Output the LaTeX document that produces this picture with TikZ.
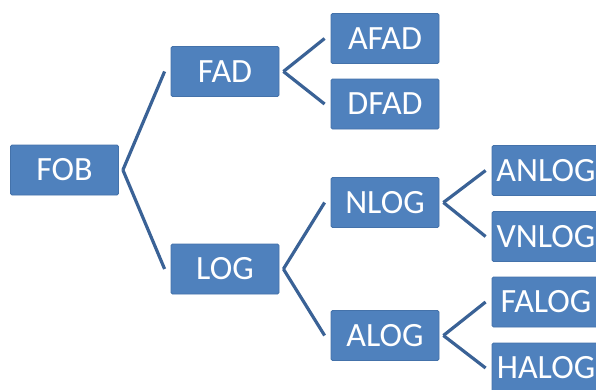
\documentclass[tikz,border=0pt]{standalone}
\usepackage{fontspec}
\setmainfont{Carlito}
\definecolor{boxblue}{RGB}{79,129,189}
\definecolor{boxedge}{RGB}{68,114,170}
\definecolor{linkblue}{RGB}{58,98,150}
\begin{document}
\begin{tikzpicture}[x=1pt,y=-1pt,
  tbox/.style={draw=boxedge,line width=0.8pt,fill=boxblue,rounded corners=1.5pt,
    minimum width=108pt,minimum height=50pt,inner sep=0pt,text=white,
    font=\fontsize{34}{40}\selectfont},
  conn/.style={draw=linkblue,line width=3.2pt}]
\useasboundingbox (0,0) rectangle (596,389);
\clip (0,0) rectangle (596,389);
\node[tbox] (FOB) at (64.5,170) {FOB};
\node[tbox] (FAD) at (225,71.5) {FAD};
\node[tbox] (LOG) at (225,269) {LOG};
\node[tbox] (AFAD) at (385,38.5) {AFAD};
\node[tbox] (DFAD) at (385,104) {DFAD};
\node[tbox] (NLOG) at (385,202.5) {NLOG};
\node[tbox] (ALOG) at (385,335.5) {ALOG};
\node[tbox] (ANLOG) at (546,170.5) {ANLOG};
\node[tbox] (VNLOG) at (546,236.5) {VNLOG};
\node[tbox] (FALOG) at (546,302) {FALOG};
\node[tbox] (HALOG) at (546,368) {HALOG};
\foreach \p/\c in {FOB/FAD,FOB/LOG,FAD/AFAD,FAD/DFAD,LOG/NLOG,LOG/ALOG,NLOG/ANLOG,NLOG/VNLOG,ALOG/FALOG,ALOG/HALOG}
  \draw[conn] ([xshift=4pt]\p.east) -- ([xshift=-6pt]\c.west);
\end{tikzpicture}
\end{document}
